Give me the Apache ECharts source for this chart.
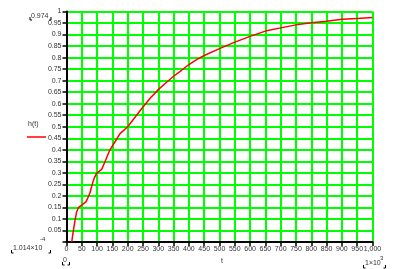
<!DOCTYPE html>
<html><head><meta charset="utf-8">
<script src="https://cdn.jsdelivr.net/npm/echarts@6/dist/echarts.min.js"></script>
<style>html,body{margin:0;padding:0;background:#fff}#c{width:395px;height:269px}</style>
</head><body><div id="c"></div>
<script>
var tValues = [17, 22, 28, 33, 39, 50, 64, 71, 77, 84, 90, 98, 115, 126, 142, 159, 175, 200, 222, 250, 274, 300, 327, 350, 376, 400, 425, 450, 500, 550, 600, 650, 700, 750, 800, 850, 900, 950, 1000];
var hValues = [0, 0.045, 0.096, 0.13, 0.15, 0.16, 0.175, 0.195, 0.215, 0.25, 0.275, 0.298, 0.315, 0.349, 0.4, 0.436, 0.47, 0.5, 0.538, 0.586, 0.625, 0.661, 0.693, 0.719, 0.745, 0.77, 0.791, 0.809, 0.839, 0.867, 0.892, 0.915, 0.929, 0.942, 0.951, 0.958, 0.966, 0.970, 0.974];
var yTop = '0.974', yBottom = '1.014×10', yBottomExp = '-4', xLeft = '0', xRight = '1×10', xRightExp = '3';
var yName = 'h(t)', xName = 't';

var data = tValues.map(function(t, i){ return [t, hValues[i]]; });
var font = 'Liberation Sans, Arial, sans-serif';
var txt = '#333';
function bracket(x1, x2, y){ // small corner brackets
  return [
    {type:'polyline', shape:{points:[[x1,y-3],[x1,y],[x1+2,y]]}, style:{stroke:'#000', lineWidth:1, fill:null}},
    {type:'polyline', shape:{points:[[x2-2,y],[x2,y],[x2,y-3]]}, style:{stroke:'#000', lineWidth:1, fill:null}}
  ];
}
var chart = echarts.init(document.getElementById('c'), null, {renderer:'canvas'});
chart.setOption({
  animation:false,
  grid:{left:66.5, right:22.5, top:11.5, bottom:27, containLabel:false},
  xAxis:{type:'value', min:0, max:1000, interval:50,
    axisLine:{show:true, lineStyle:{color:'#000', width:2}},
    axisTick:{show:true, length:4, lineStyle:{color:'#000', width:1.5}},
    axisLabel:{interval:0, hideOverlap:false, showMinLabel:true, showMaxLabel:true, fontSize:7, color:txt, fontFamily:font, margin:4},
    splitLine:{show:true, lineStyle:{color:'#00ff00', width:2}}
  },
  yAxis:{type:'value', min:0, max:1, interval:0.05,
    axisLine:{show:true, lineStyle:{color:'#000', width:2}},
    axisTick:{show:true, length:4, lineStyle:{color:'#000', width:1.5}},
    axisLabel:{fontSize:7, color:txt, fontFamily:font, margin:5, showMinLabel:true, showMaxLabel:true, hideOverlap:false,
      formatter:function(v){ return v === 0 ? '' : String(+v.toFixed(2)); }},
    splitLine:{show:true, lineStyle:{color:'#00ff00', width:2}}
  },
  series:[{type:'line', data:data, showSymbol:false, lineStyle:{color:'#ff0000', width:1.5}, itemStyle:{color:'#ff0000'}}],
  graphic:[
    {type:'text', left:28, top:121, style:{text:yName, fontSize:7, fill:txt, fontFamily:font}},
    {type:'line', shape:{x1:27, y1:137, x2:46, y2:137}, style:{stroke:'#ff0000', lineWidth:1.5}},
    {type:'text', left:221, top:258, style:{text:xName, fontSize:7, fill:txt, fontFamily:font}},
    {type:'text', left:31, top:13, style:{text:yTop, fontSize:7, fill:txt, fontFamily:font}}
  ].concat(bracket(30, 51, 20)).concat([
    {type:'text', left:13, top:245, style:{text:yBottom, fontSize:7, fill:txt, fontFamily:font}},
    {type:'text', left:40, top:236, style:{text:yBottomExp, fontSize:6, fill:txt, fontFamily:font}}
  ]).concat(bracket(11.5, 50.5, 253)).concat([
    {type:'text', left:63, top:257, style:{text:xLeft, fontSize:7, fill:txt, fontFamily:font}}
  ]).concat(bracket(62.5, 69.5, 265)).concat([
    {type:'text', left:365, top:260, style:{text:xRight, fontSize:7, fill:txt, fontFamily:font}},
    {type:'text', left:380, top:255, style:{text:xRightExp, fontSize:6, fill:txt, fontFamily:font}}
  ]).concat(bracket(363.5, 385.5, 268))
});
</script></body></html>
